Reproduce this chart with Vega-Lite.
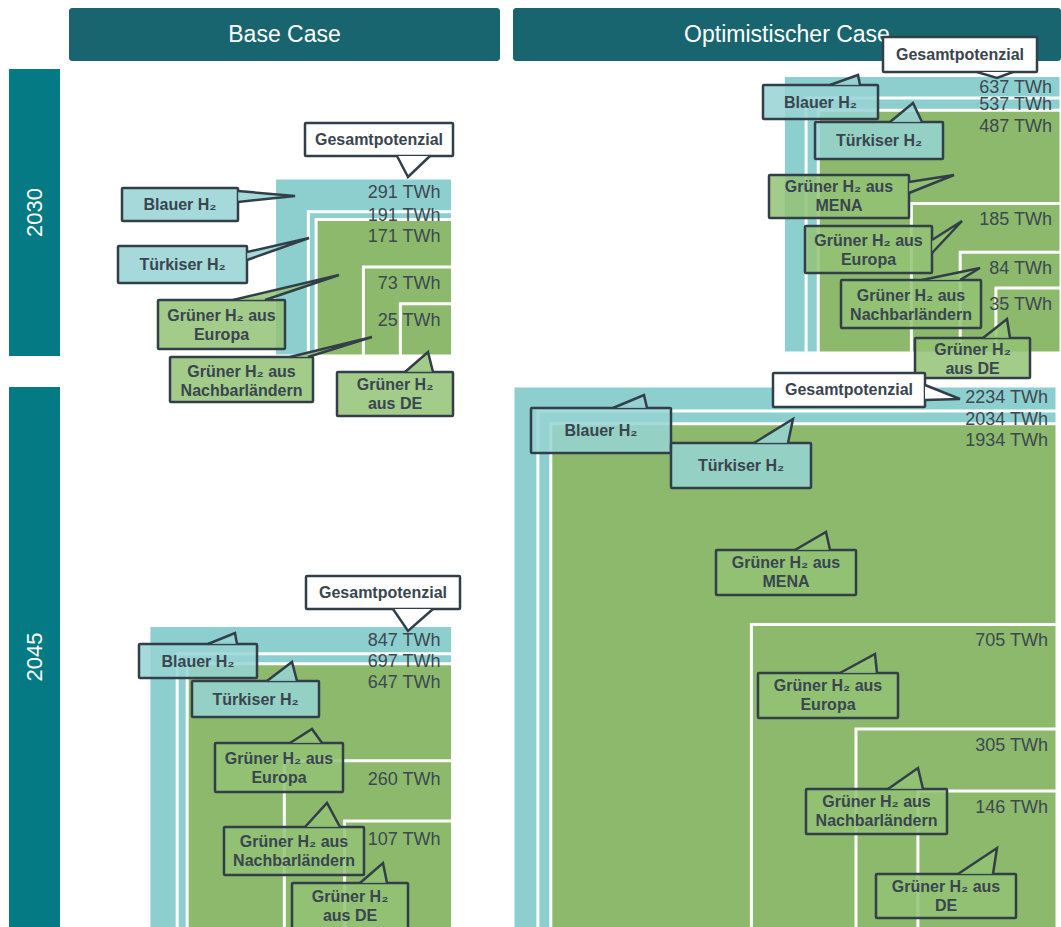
{
  "$schema": "https://vega.github.io/schema/vega-lite/v6.json",
  "padding": {"left": 9, "top": 8, "right": 0, "bottom": 0},
  "background": "white",
  "config": {"view": {"stroke": null}, "font": "Liberation Sans"},
  "datasets": {
    "kopf": [{"fall": "Base Case"}, {"fall": "Optimistischer Case"}],
    "jahre": [{"jahr": "2030"}, {"jahr": "2045"}],
    "quadrate": [
      {"fall": "Base Case", "jahr": 2030, "kategorie": "Blauer H₂", "wert": 291, "beschriftung": "291 TWh"},
      {"fall": "Base Case", "jahr": 2030, "kategorie": "Türkiser H₂", "wert": 191, "beschriftung": "191 TWh"},
      {"fall": "Base Case", "jahr": 2030, "kategorie": "Grüner H₂ aus Europa", "wert": 171, "beschriftung": "171 TWh"},
      {"fall": "Base Case", "jahr": 2030, "kategorie": "Grüner H₂ aus Nachbarländern", "wert": 73, "beschriftung": "73 TWh"},
      {"fall": "Base Case", "jahr": 2030, "kategorie": "Grüner H₂ aus DE", "wert": 25, "beschriftung": "25 TWh"},
      {"fall": "Optimistischer Case", "jahr": 2030, "kategorie": "Blauer H₂", "wert": 637, "beschriftung": "637 TWh"},
      {"fall": "Optimistischer Case", "jahr": 2030, "kategorie": "Türkiser H₂", "wert": 537, "beschriftung": "537 TWh"},
      {"fall": "Optimistischer Case", "jahr": 2030, "kategorie": "Grüner H₂ aus MENA", "wert": 487, "beschriftung": "487 TWh"},
      {"fall": "Optimistischer Case", "jahr": 2030, "kategorie": "Grüner H₂ aus Europa", "wert": 185, "beschriftung": "185 TWh"},
      {"fall": "Optimistischer Case", "jahr": 2030, "kategorie": "Grüner H₂ aus Nachbarländern", "wert": 84, "beschriftung": "84 TWh"},
      {"fall": "Optimistischer Case", "jahr": 2030, "kategorie": "Grüner H₂ aus DE", "wert": 35, "beschriftung": "35 TWh"},
      {"fall": "Base Case", "jahr": 2045, "kategorie": "Blauer H₂", "wert": 847, "beschriftung": "847 TWh"},
      {"fall": "Base Case", "jahr": 2045, "kategorie": "Türkiser H₂", "wert": 697, "beschriftung": "697 TWh"},
      {"fall": "Base Case", "jahr": 2045, "kategorie": "Grüner H₂ aus Europa", "wert": 647, "beschriftung": "647 TWh"},
      {"fall": "Base Case", "jahr": 2045, "kategorie": "Grüner H₂ aus Nachbarländern", "wert": 260, "beschriftung": "260 TWh"},
      {"fall": "Base Case", "jahr": 2045, "kategorie": "Grüner H₂ aus DE", "wert": 107, "beschriftung": "107 TWh"},
      {"fall": "Optimistischer Case", "jahr": 2045, "kategorie": "Blauer H₂", "wert": 2234, "beschriftung": "2234 TWh"},
      {"fall": "Optimistischer Case", "jahr": 2045, "kategorie": "Türkiser H₂", "wert": 2034, "beschriftung": "2034 TWh"},
      {"fall": "Optimistischer Case", "jahr": 2045, "kategorie": "Grüner H₂ aus MENA", "wert": 1934, "beschriftung": "1934 TWh"},
      {"fall": "Optimistischer Case", "jahr": 2045, "kategorie": "Grüner H₂ aus Europa", "wert": 705, "beschriftung": "705 TWh"},
      {"fall": "Optimistischer Case", "jahr": 2045, "kategorie": "Grüner H₂ aus Nachbarländern", "wert": 305, "beschriftung": "305 TWh"},
      {"fall": "Optimistischer Case", "jahr": 2045, "kategorie": "Grüner H₂ aus DE", "wert": 146, "beschriftung": "146 TWh"}
    ],
    "boxen": [
      {"id": "B30-G", "fall": "Base Case", "jahr": 2030, "kategorie": "Gesamtpotenzial", "text": "Gesamtpotenzial", "x1": 236, "x2": 384, "y1": 54, "y2": 87, "cx": 310, "cy": 70.5},
      {"id": "B30-B", "fall": "Base Case", "jahr": 2030, "kategorie": "Blauer H₂", "text": "Blauer H₂", "x1": 53, "x2": 169, "y1": 119, "y2": 152, "cx": 111, "cy": 136},
      {"id": "B30-T", "fall": "Base Case", "jahr": 2030, "kategorie": "Türkiser H₂", "text": "Türkiser H₂", "x1": 49, "x2": 178, "y1": 177, "y2": 214, "cx": 113.5, "cy": 196},
      {"id": "B30-E", "fall": "Base Case", "jahr": 2030, "kategorie": "Grüner H₂ aus Europa", "text": "Grüner H₂ aus\nEuropa", "x1": 89, "x2": 216, "y1": 231, "y2": 280, "cx": 152.5, "cy": 247},
      {"id": "B30-N", "fall": "Base Case", "jahr": 2030, "kategorie": "Grüner H₂ aus Nachbarländern", "text": "Grüner H₂ aus\nNachbarländern", "x1": 101, "x2": 244, "y1": 288, "y2": 333, "cx": 172.5, "cy": 303},
      {"id": "B30-D", "fall": "Base Case", "jahr": 2030, "kategorie": "Grüner H₂ aus DE", "text": "Grüner H₂\naus DE", "x1": 268, "x2": 384, "y1": 303, "y2": 347, "cx": 326, "cy": 316},
      {"id": "O30-G", "fall": "Optimistischer Case", "jahr": 2030, "kategorie": "Gesamtpotenzial", "text": "Gesamtpotenzial", "x1": 370, "x2": 524, "y1": -32, "y2": 3, "cx": 447, "cy": -14},
      {"id": "O30-B", "fall": "Optimistischer Case", "jahr": 2030, "kategorie": "Blauer H₂", "text": "Blauer H₂", "x1": 250, "x2": 365, "y1": 16, "y2": 50, "cx": 307.5, "cy": 34},
      {"id": "O30-T", "fall": "Optimistischer Case", "jahr": 2030, "kategorie": "Türkiser H₂", "text": "Türkiser H₂", "x1": 302, "x2": 430, "y1": 53, "y2": 90, "cx": 366, "cy": 72},
      {"id": "O30-M", "fall": "Optimistischer Case", "jahr": 2030, "kategorie": "Grüner H₂ aus MENA", "text": "Grüner H₂ aus\nMENA", "x1": 256, "x2": 396, "y1": 106, "y2": 149, "cx": 326, "cy": 118},
      {"id": "O30-E", "fall": "Optimistischer Case", "jahr": 2030, "kategorie": "Grüner H₂ aus Europa", "text": "Grüner H₂ aus\nEuropa", "x1": 292, "x2": 419, "y1": 157, "y2": 204, "cx": 355.5, "cy": 172},
      {"id": "O30-N", "fall": "Optimistischer Case", "jahr": 2030, "kategorie": "Grüner H₂ aus Nachbarländern", "text": "Grüner H₂ aus\nNachbarländern", "x1": 328, "x2": 468, "y1": 211, "y2": 259, "cx": 398, "cy": 227},
      {"id": "O30-D", "fall": "Optimistischer Case", "jahr": 2030, "kategorie": "Grüner H₂ aus DE", "text": "Grüner H₂\naus DE", "x1": 402, "x2": 517, "y1": 269, "y2": 309, "cx": 459.5, "cy": 281},
      {"id": "B45-G", "fall": "Base Case", "jahr": 2045, "kategorie": "Gesamtpotenzial", "text": "Gesamtpotenzial", "x1": 237, "x2": 391, "y1": 189, "y2": 222, "cx": 314, "cy": 206},
      {"id": "B45-B", "fall": "Base Case", "jahr": 2045, "kategorie": "Blauer H₂", "text": "Blauer H₂", "x1": 70, "x2": 188, "y1": 257, "y2": 291, "cx": 129, "cy": 275},
      {"id": "B45-T", "fall": "Base Case", "jahr": 2045, "kategorie": "Türkiser H₂", "text": "Türkiser H₂", "x1": 123, "x2": 250, "y1": 294, "y2": 330, "cx": 186.5, "cy": 313},
      {"id": "B45-E", "fall": "Base Case", "jahr": 2045, "kategorie": "Grüner H₂ aus Europa", "text": "Grüner H₂ aus\nEuropa", "x1": 146, "x2": 274, "y1": 356, "y2": 405, "cx": 210, "cy": 372},
      {"id": "B45-N", "fall": "Base Case", "jahr": 2045, "kategorie": "Grüner H₂ aus Nachbarländern", "text": "Grüner H₂ aus\nNachbarländern", "x1": 155, "x2": 295, "y1": 440, "y2": 488, "cx": 225, "cy": 455},
      {"id": "B45-D", "fall": "Base Case", "jahr": 2045, "kategorie": "Grüner H₂ aus DE", "text": "Grüner H₂\naus DE", "x1": 223, "x2": 339, "y1": 496, "y2": 548, "cx": 281, "cy": 510},
      {"id": "O45-G", "fall": "Optimistischer Case", "jahr": 2045, "kategorie": "Gesamtpotenzial", "text": "Gesamtpotenzial", "x1": 260, "x2": 412, "y1": -14, "y2": 20, "cx": 336, "cy": 3},
      {"id": "O45-B", "fall": "Optimistischer Case", "jahr": 2045, "kategorie": "Blauer H₂", "text": "Blauer H₂", "x1": 18, "x2": 158, "y1": 21, "y2": 66, "cx": 88, "cy": 44},
      {"id": "O45-T", "fall": "Optimistischer Case", "jahr": 2045, "kategorie": "Türkiser H₂", "text": "Türkiser H₂", "x1": 158, "x2": 298, "y1": 56, "y2": 101, "cx": 228, "cy": 79},
      {"id": "O45-M", "fall": "Optimistischer Case", "jahr": 2045, "kategorie": "Grüner H₂ aus MENA", "text": "Grüner H₂ aus\nMENA", "x1": 203, "x2": 343, "y1": 163, "y2": 208, "cx": 273, "cy": 176},
      {"id": "O45-E", "fall": "Optimistischer Case", "jahr": 2045, "kategorie": "Grüner H₂ aus Europa", "text": "Grüner H₂ aus\nEuropa", "x1": 245, "x2": 385, "y1": 286, "y2": 331, "cx": 315, "cy": 299},
      {"id": "O45-N", "fall": "Optimistischer Case", "jahr": 2045, "kategorie": "Grüner H₂ aus Nachbarländern", "text": "Grüner H₂ aus\nNachbarländern", "x1": 293, "x2": 434, "y1": 402, "y2": 447, "cx": 363.5, "cy": 415},
      {"id": "O45-D", "fall": "Optimistischer Case", "jahr": 2045, "kategorie": "Grüner H₂ aus DE", "text": "Grüner H₂ aus\nDE", "x1": 363, "x2": 503, "y1": 487, "y2": 531, "cx": 433, "cy": 500}
    ],
    "spitzen": [
      {"id": "B30-G", "ord": 0, "x": 328, "y": 87}, {"id": "B30-G", "ord": 1, "x": 339, "y": 108}, {"id": "B30-G", "ord": 2, "x": 361, "y": 87},
      {"id": "B30-B", "ord": 0, "x": 169, "y": 122}, {"id": "B30-B", "ord": 1, "x": 226, "y": 127}, {"id": "B30-B", "ord": 2, "x": 169, "y": 133},
      {"id": "B30-T", "ord": 0, "x": 178, "y": 183}, {"id": "B30-T", "ord": 1, "x": 240, "y": 169}, {"id": "B30-T", "ord": 2, "x": 178, "y": 191},
      {"id": "B30-E", "ord": 0, "x": 164, "y": 231}, {"id": "B30-E", "ord": 1, "x": 270, "y": 206}, {"id": "B30-E", "ord": 2, "x": 196, "y": 231},
      {"id": "B30-N", "ord": 0, "x": 221, "y": 288}, {"id": "B30-N", "ord": 1, "x": 303, "y": 268}, {"id": "B30-N", "ord": 2, "x": 239, "y": 288},
      {"id": "B30-D", "ord": 0, "x": 336, "y": 303}, {"id": "B30-D", "ord": 1, "x": 359, "y": 283}, {"id": "B30-D", "ord": 2, "x": 364, "y": 303},
      {"id": "O30-G", "ord": 0, "x": 464, "y": 3}, {"id": "O30-G", "ord": 1, "x": 484, "y": 9}, {"id": "O30-G", "ord": 2, "x": 500, "y": 3},
      {"id": "O30-B", "ord": 0, "x": 317, "y": 16}, {"id": "O30-B", "ord": 1, "x": 345, "y": 6}, {"id": "O30-B", "ord": 2, "x": 347, "y": 16},
      {"id": "O30-T", "ord": 0, "x": 377, "y": 53}, {"id": "O30-T", "ord": 1, "x": 400, "y": 34}, {"id": "O30-T", "ord": 2, "x": 409, "y": 53},
      {"id": "O30-M", "ord": 0, "x": 396, "y": 113}, {"id": "O30-M", "ord": 1, "x": 441, "y": 106}, {"id": "O30-M", "ord": 2, "x": 396, "y": 124},
      {"id": "O30-E", "ord": 0, "x": 419, "y": 171}, {"id": "O30-E", "ord": 1, "x": 449, "y": 152}, {"id": "O30-E", "ord": 2, "x": 419, "y": 184},
      {"id": "O30-N", "ord": 0, "x": 409, "y": 211}, {"id": "O30-N", "ord": 1, "x": 467, "y": 199}, {"id": "O30-N", "ord": 2, "x": 447, "y": 211},
      {"id": "O30-D", "ord": 0, "x": 470, "y": 269}, {"id": "O30-D", "ord": 1, "x": 494, "y": 250}, {"id": "O30-D", "ord": 2, "x": 497, "y": 269},
      {"id": "B45-G", "ord": 0, "x": 324, "y": 222}, {"id": "B45-G", "ord": 1, "x": 339, "y": 244}, {"id": "B45-G", "ord": 2, "x": 364, "y": 222},
      {"id": "B45-B", "ord": 0, "x": 139, "y": 257}, {"id": "B45-B", "ord": 1, "x": 166, "y": 246}, {"id": "B45-B", "ord": 2, "x": 168, "y": 257},
      {"id": "B45-T", "ord": 0, "x": 198, "y": 294}, {"id": "B45-T", "ord": 1, "x": 223, "y": 275}, {"id": "B45-T", "ord": 2, "x": 228, "y": 294},
      {"id": "B45-E", "ord": 0, "x": 221, "y": 356}, {"id": "B45-E", "ord": 1, "x": 243, "y": 342}, {"id": "B45-E", "ord": 2, "x": 253, "y": 356},
      {"id": "B45-N", "ord": 0, "x": 236, "y": 440}, {"id": "B45-N", "ord": 1, "x": 258, "y": 416}, {"id": "B45-N", "ord": 2, "x": 271, "y": 440},
      {"id": "B45-D", "ord": 0, "x": 291, "y": 496}, {"id": "B45-D", "ord": 1, "x": 314, "y": 476}, {"id": "B45-D", "ord": 2, "x": 318, "y": 496},
      {"id": "O45-G", "ord": 0, "x": 412, "y": -2}, {"id": "O45-G", "ord": 1, "x": 447, "y": 12}, {"id": "O45-G", "ord": 2, "x": 412, "y": 13},
      {"id": "O45-B", "ord": 0, "x": 100, "y": 21}, {"id": "O45-B", "ord": 1, "x": 131, "y": 8}, {"id": "O45-B", "ord": 2, "x": 134, "y": 21},
      {"id": "O45-T", "ord": 0, "x": 241, "y": 56}, {"id": "O45-T", "ord": 1, "x": 280, "y": 32}, {"id": "O45-T", "ord": 2, "x": 275, "y": 56},
      {"id": "O45-M", "ord": 0, "x": 282, "y": 163}, {"id": "O45-M", "ord": 1, "x": 313, "y": 145}, {"id": "O45-M", "ord": 2, "x": 317, "y": 163},
      {"id": "O45-E", "ord": 0, "x": 327, "y": 286}, {"id": "O45-E", "ord": 1, "x": 362, "y": 267}, {"id": "O45-E", "ord": 2, "x": 364, "y": 286},
      {"id": "O45-N", "ord": 0, "x": 375, "y": 402}, {"id": "O45-N", "ord": 1, "x": 405, "y": 381}, {"id": "O45-N", "ord": 2, "x": 410, "y": 402},
      {"id": "O45-D", "ord": 0, "x": 445, "y": 487}, {"id": "O45-D", "ord": 1, "x": 484, "y": 461}, {"id": "O45-D", "ord": 2, "x": 480, "y": 487}
    ]
  },
  "columns": 3,
  "spacing": {"row": 8, "column": 9},
  "bounds": "flush",
  "align": "each",
  "concat": [
    {"width": 51, "height": 53, "data": {"values": [{}]}, "mark": {"type": "point", "opacity": 0}, "encoding": {}},
    {"width": 431, "height": 53, "view": {"fill": "#19656f", "stroke": null, "cornerRadius": 3}, "data": {"name": "kopf"}, "transform": [{"filter": "datum.fall == 'Base Case'"}], "mark": {"type": "text", "color": "white", "fontSize": 23}, "encoding": {"text": {"field": "fall"}}},
    {"width": 548, "height": 53, "view": {"fill": "#19656f", "stroke": null, "cornerRadius": 3}, "data": {"name": "kopf"}, "transform": [{"filter": "datum.fall == 'Optimistischer Case'"}], "mark": {"type": "text", "color": "white", "fontSize": 23}, "encoding": {"text": {"field": "fall"}}},

    {"width": 51, "height": 287, "view": {"fill": "#047a84", "stroke": null}, "data": {"name": "jahre"}, "transform": [{"filter": "datum.jahr == '2030'"}], "mark": {"type": "text", "color": "white", "fontSize": 22, "angle": 270}, "encoding": {"text": {"field": "jahr"}}},
    {
      "width": 435, "height": 310,
      "resolve": {"scale": {"x": "independent", "y": "independent"}},
      "layer": [
        {"data": {"name": "quadrate"}, "transform": [{"filter": "datum.fall == 'Base Case' && datum.jahr == 2030"}],
         "mark": {"type": "rect", "stroke": "white", "strokeWidth": 3, "clip": true},
         "encoding": {
           "x": {"field": "wert", "type": "quantitative", "scale": {"type": "sqrt", "domain": [0, 1352], "range": [383.5, 0], "nice": false}, "axis": null},
           "x2": {"datum": 0},
           "y": {"field": "wert", "type": "quantitative", "scale": {"type": "sqrt", "domain": [0, 757.2], "range": [287, 0], "nice": false}, "axis": null},
           "y2": {"datum": 0},
           "color": {"field": "kategorie", "type": "nominal", "scale": {"domain": ["Blauer H₂", "Türkiser H₂", "Grüner H₂ aus MENA", "Grüner H₂ aus Europa", "Grüner H₂ aus Nachbarländern", "Grüner H₂ aus DE"], "range": ["#8dcfcf", "#8dcfcf", "#8cb96b", "#8cb96b", "#8cb96b", "#8cb96b"]}, "legend": null}
         }},
        {"data": {"name": "quadrate"}, "transform": [{"filter": "datum.fall == 'Base Case' && datum.jahr == 2030 && datum.kategorie == 'Blauer H₂'"}],
         "mark": {"type": "text", "align": "right", "baseline": "middle", "dx": -12, "dy": 15, "fontSize": 18, "color": "#3d4852"},
         "encoding": {
           "x": {"datum": 0, "type": "quantitative", "scale": {"type": "sqrt", "domain": [0, 1352], "range": [383.5, 0], "nice": false}, "axis": null},
           "y": {"field": "wert", "type": "quantitative", "scale": {"type": "sqrt", "domain": [0, 757.2], "range": [287, 0], "nice": false}, "axis": null},
           "text": {"field": "beschriftung"}
         }},
        {"data": {"name": "quadrate"}, "transform": [{"filter": "datum.fall == 'Base Case' && datum.jahr == 2030 && datum.kategorie == 'Türkiser H₂'"}],
         "mark": {"type": "text", "align": "right", "baseline": "middle", "dx": -12, "dy": 4, "fontSize": 18, "color": "#3d4852"},
         "encoding": {
           "x": {"datum": 0, "type": "quantitative", "scale": {"type": "sqrt", "domain": [0, 1352], "range": [383.5, 0], "nice": false}, "axis": null},
           "y": {"field": "wert", "type": "quantitative", "scale": {"type": "sqrt", "domain": [0, 757.2], "range": [287, 0], "nice": false}, "axis": null},
           "text": {"field": "beschriftung"}
         }},
        {"data": {"name": "quadrate"}, "transform": [{"filter": "datum.fall == 'Base Case' && datum.jahr == 2030 && indexof(datum.kategorie, 'Grüner') == 0"}],
         "mark": {"type": "text", "align": "right", "baseline": "middle", "dx": -12, "dy": 17, "fontSize": 18, "color": "#3d4852"},
         "encoding": {
           "x": {"datum": 0, "type": "quantitative", "scale": {"type": "sqrt", "domain": [0, 1352], "range": [383.5, 0], "nice": false}, "axis": null},
           "y": {"field": "wert", "type": "quantitative", "scale": {"type": "sqrt", "domain": [0, 757.2], "range": [287, 0], "nice": false}, "axis": null},
           "text": {"field": "beschriftung"}
         }},
        {"data": {"name": "boxen"}, "transform": [{"filter": "datum.fall == 'Base Case' && datum.jahr == 2030"}],
         "mark": {"type": "rect", "stroke": "#333f48", "strokeWidth": 2.5, "strokeJoin": "miter", "cornerRadius": 1},
         "encoding": {
           "x": {"field": "x1", "type": "quantitative", "scale": {"domain": [0, 435], "range": [0, 435], "nice": false, "zero": false}, "axis": null},
           "x2": {"field": "x2"},
           "y": {"field": "y1", "type": "quantitative", "scale": {"domain": [0, 310], "range": [0, 310], "nice": false, "zero": false}, "axis": null},
           "y2": {"field": "y2"},
           "fill": {"field": "kategorie", "type": "nominal", "scale": {"domain": ["Gesamtpotenzial", "Blauer H₂", "Türkiser H₂", "Grüner H₂ aus MENA", "Grüner H₂ aus Europa", "Grüner H₂ aus Nachbarländern", "Grüner H₂ aus DE"], "range": ["#ffffff", "#96d4d4", "#96d4d4", "#93c275", "#93c275", "#93c275", "#93c275"]}, "legend": null},
           "fillOpacity": {"condition": {"test": "datum.kategorie == 'Gesamtpotenzial'", "value": 1}, "value": 0.85}
         }},
        {"data": {"name": "spitzen"}, "transform": [{"lookup": "id", "from": {"data": {"name": "boxen"}, "key": "id", "fields": ["kategorie", "fall", "jahr"]}}, {"filter": "datum.fall == 'Base Case' && datum.jahr == 2030"}],
         "mark": {"type": "line", "stroke": "#333f48", "strokeWidth": 2.5, "strokeJoin": "miter"},
         "encoding": {
           "x": {"field": "x", "type": "quantitative", "scale": {"domain": [0, 435], "range": [0, 435], "nice": false, "zero": false}, "axis": null},
           "y": {"field": "y", "type": "quantitative", "scale": {"domain": [0, 310], "range": [0, 310], "nice": false, "zero": false}, "axis": null},
           "order": {"field": "ord", "type": "quantitative"},
           "detail": {"field": "id", "type": "nominal"},
           "fill": {"field": "kategorie", "type": "nominal", "scale": {"domain": ["Gesamtpotenzial", "Blauer H₂", "Türkiser H₂", "Grüner H₂ aus MENA", "Grüner H₂ aus Europa", "Grüner H₂ aus Nachbarländern", "Grüner H₂ aus DE"], "range": ["#ffffff", "#96d4d4", "#96d4d4", "#93c275", "#93c275", "#93c275", "#93c275"]}, "legend": null},
           "fillOpacity": {"condition": {"test": "datum.kategorie == 'Gesamtpotenzial'", "value": 1}, "value": 0.85}
         }},
        {"data": {"name": "boxen"}, "transform": [{"filter": "datum.fall == 'Base Case' && datum.jahr == 2030"}],
         "mark": {"type": "text", "fontSize": 16, "fontWeight": "bold", "color": "#3a4550", "lineBreak": "\n", "lineHeight": 19, "baseline": "middle", "align": "center"},
         "encoding": {
           "x": {"field": "cx", "type": "quantitative", "scale": {"domain": [0, 435], "range": [0, 435], "nice": false, "zero": false}, "axis": null},
           "y": {"field": "cy", "type": "quantitative", "scale": {"domain": [0, 310], "range": [0, 310], "nice": false, "zero": false}, "axis": null},
           "text": {"field": "text"}
         }}
      ]
    },
    {
      "width": 548, "height": 310,
      "resolve": {"scale": {"x": "independent", "y": "independent"}},
      "layer": [
        {"data": {"name": "quadrate"}, "transform": [{"filter": "datum.fall == 'Optimistischer Case' && datum.jahr == 2030"}],
         "mark": {"type": "rect", "stroke": "white", "strokeWidth": 3, "clip": true},
         "encoding": {
           "x": {"field": "wert", "type": "quantitative", "scale": {"type": "sqrt", "domain": [0, 2481.9], "range": [548, 0], "nice": false}, "axis": null},
           "x2": {"datum": 0},
           "y": {"field": "wert", "type": "quantitative", "scale": {"type": "sqrt", "domain": [0, 666.6], "range": [284, 0], "nice": false}, "axis": null},
           "y2": {"datum": 0},
           "color": {"field": "kategorie", "type": "nominal", "scale": {"domain": ["Blauer H₂", "Türkiser H₂", "Grüner H₂ aus MENA", "Grüner H₂ aus Europa", "Grüner H₂ aus Nachbarländern", "Grüner H₂ aus DE"], "range": ["#8dcfcf", "#8dcfcf", "#8cb96b", "#8cb96b", "#8cb96b", "#8cb96b"]}, "legend": null}
         }},
        {"data": {"name": "quadrate"}, "transform": [{"filter": "datum.fall == 'Optimistischer Case' && datum.jahr == 2030 && datum.kategorie == 'Blauer H₂'"}],
         "mark": {"type": "text", "align": "right", "baseline": "middle", "dx": -9, "dy": 13, "fontSize": 18, "color": "#3d4852"},
         "encoding": {
           "x": {"datum": 0, "type": "quantitative", "scale": {"type": "sqrt", "domain": [0, 2481.9], "range": [548, 0], "nice": false}, "axis": null},
           "y": {"field": "wert", "type": "quantitative", "scale": {"type": "sqrt", "domain": [0, 666.6], "range": [284, 0], "nice": false}, "axis": null},
           "text": {"field": "beschriftung"}
         }},
        {"data": {"name": "quadrate"}, "transform": [{"filter": "datum.fall == 'Optimistischer Case' && datum.jahr == 2030 && datum.kategorie == 'Türkiser H₂'"}],
         "mark": {"type": "text", "align": "right", "baseline": "middle", "dx": -9, "dy": 7, "fontSize": 18, "color": "#3d4852"},
         "encoding": {
           "x": {"datum": 0, "type": "quantitative", "scale": {"type": "sqrt", "domain": [0, 2481.9], "range": [548, 0], "nice": false}, "axis": null},
           "y": {"field": "wert", "type": "quantitative", "scale": {"type": "sqrt", "domain": [0, 666.6], "range": [284, 0], "nice": false}, "axis": null},
           "text": {"field": "beschriftung"}
         }},
        {"data": {"name": "quadrate"}, "transform": [{"filter": "datum.fall == 'Optimistischer Case' && datum.jahr == 2030 && indexof(datum.kategorie, 'Grüner') == 0"}],
         "mark": {"type": "text", "align": "right", "baseline": "middle", "dx": -9, "dy": 17, "fontSize": 18, "color": "#3d4852"},
         "encoding": {
           "x": {"datum": 0, "type": "quantitative", "scale": {"type": "sqrt", "domain": [0, 2481.9], "range": [548, 0], "nice": false}, "axis": null},
           "y": {"field": "wert", "type": "quantitative", "scale": {"type": "sqrt", "domain": [0, 666.6], "range": [284, 0], "nice": false}, "axis": null},
           "text": {"field": "beschriftung"}
         }},
        {"data": {"name": "boxen"}, "transform": [{"filter": "datum.fall == 'Optimistischer Case' && datum.jahr == 2030"}],
         "mark": {"type": "rect", "stroke": "#333f48", "strokeWidth": 2.5, "strokeJoin": "miter", "cornerRadius": 1},
         "encoding": {
           "x": {"field": "x1", "type": "quantitative", "scale": {"domain": [0, 548], "range": [0, 548], "nice": false, "zero": false}, "axis": null},
           "x2": {"field": "x2"},
           "y": {"field": "y1", "type": "quantitative", "scale": {"domain": [0, 310], "range": [0, 310], "nice": false, "zero": false}, "axis": null},
           "y2": {"field": "y2"},
           "fill": {"field": "kategorie", "type": "nominal", "scale": {"domain": ["Gesamtpotenzial", "Blauer H₂", "Türkiser H₂", "Grüner H₂ aus MENA", "Grüner H₂ aus Europa", "Grüner H₂ aus Nachbarländern", "Grüner H₂ aus DE"], "range": ["#ffffff", "#96d4d4", "#96d4d4", "#93c275", "#93c275", "#93c275", "#93c275"]}, "legend": null},
           "fillOpacity": {"condition": {"test": "datum.kategorie == 'Gesamtpotenzial'", "value": 1}, "value": 0.85}
         }},
        {"data": {"name": "spitzen"}, "transform": [{"lookup": "id", "from": {"data": {"name": "boxen"}, "key": "id", "fields": ["kategorie", "fall", "jahr"]}}, {"filter": "datum.fall == 'Optimistischer Case' && datum.jahr == 2030"}],
         "mark": {"type": "line", "stroke": "#333f48", "strokeWidth": 2.5, "strokeJoin": "miter"},
         "encoding": {
           "x": {"field": "x", "type": "quantitative", "scale": {"domain": [0, 548], "range": [0, 548], "nice": false, "zero": false}, "axis": null},
           "y": {"field": "y", "type": "quantitative", "scale": {"domain": [0, 310], "range": [0, 310], "nice": false, "zero": false}, "axis": null},
           "order": {"field": "ord", "type": "quantitative"},
           "detail": {"field": "id", "type": "nominal"},
           "fill": {"field": "kategorie", "type": "nominal", "scale": {"domain": ["Gesamtpotenzial", "Blauer H₂", "Türkiser H₂", "Grüner H₂ aus MENA", "Grüner H₂ aus Europa", "Grüner H₂ aus Nachbarländern", "Grüner H₂ aus DE"], "range": ["#ffffff", "#96d4d4", "#96d4d4", "#93c275", "#93c275", "#93c275", "#93c275"]}, "legend": null},
           "fillOpacity": {"condition": {"test": "datum.kategorie == 'Gesamtpotenzial'", "value": 1}, "value": 0.85}
         }},
        {"data": {"name": "boxen"}, "transform": [{"filter": "datum.fall == 'Optimistischer Case' && datum.jahr == 2030"}],
         "mark": {"type": "text", "fontSize": 16, "fontWeight": "bold", "color": "#3a4550", "lineBreak": "\n", "lineHeight": 19, "baseline": "middle", "align": "center"},
         "encoding": {
           "x": {"field": "cx", "type": "quantitative", "scale": {"domain": [0, 548], "range": [0, 548], "nice": false, "zero": false}, "axis": null},
           "y": {"field": "cy", "type": "quantitative", "scale": {"domain": [0, 310], "range": [0, 310], "nice": false, "zero": false}, "axis": null},
           "text": {"field": "text"}
         }}
      ]
    },

    {"width": 51, "height": 540, "view": {"fill": "#047a84", "stroke": null}, "data": {"name": "jahre"}, "transform": [{"filter": "datum.jahr == '2045'"}], "mark": {"type": "text", "color": "white", "fontSize": 22, "angle": 270}, "encoding": {"text": {"field": "jahr"}}},
    {
      "width": 435, "height": 540,
      "resolve": {"scale": {"x": "independent", "y": "independent"}},
      "layer": [
        {"data": {"name": "quadrate"}, "transform": [{"filter": "datum.fall == 'Base Case' && datum.jahr == 2045"}],
         "mark": {"type": "rect", "stroke": "white", "strokeWidth": 3, "clip": true},
         "encoding": {
           "x": {"field": "wert", "type": "quantitative", "scale": {"type": "sqrt", "domain": [0, 1352], "range": [383.5, 0], "nice": false}, "axis": null},
           "x2": {"datum": 0},
           "y": {"field": "wert", "type": "quantitative", "scale": {"type": "sqrt", "domain": [0, 2700.4], "range": [542, 0], "nice": false}, "axis": null},
           "y2": {"datum": 0},
           "color": {"field": "kategorie", "type": "nominal", "scale": {"domain": ["Blauer H₂", "Türkiser H₂", "Grüner H₂ aus MENA", "Grüner H₂ aus Europa", "Grüner H₂ aus Nachbarländern", "Grüner H₂ aus DE"], "range": ["#8dcfcf", "#8dcfcf", "#8cb96b", "#8cb96b", "#8cb96b", "#8cb96b"]}, "legend": null}
         }},
        {"data": {"name": "quadrate"}, "transform": [{"filter": "datum.fall == 'Base Case' && datum.jahr == 2045 && datum.kategorie == 'Blauer H₂'"}],
         "mark": {"type": "text", "align": "right", "baseline": "middle", "dx": -12, "dy": 16, "fontSize": 18, "color": "#3d4852"},
         "encoding": {
           "x": {"datum": 0, "type": "quantitative", "scale": {"type": "sqrt", "domain": [0, 1352], "range": [383.5, 0], "nice": false}, "axis": null},
           "y": {"field": "wert", "type": "quantitative", "scale": {"type": "sqrt", "domain": [0, 2700.4], "range": [542, 0], "nice": false}, "axis": null},
           "text": {"field": "beschriftung"}
         }},
        {"data": {"name": "quadrate"}, "transform": [{"filter": "datum.fall == 'Base Case' && datum.jahr == 2045 && datum.kategorie == 'Türkiser H₂'"}],
         "mark": {"type": "text", "align": "right", "baseline": "middle", "dx": -12, "dy": 8, "fontSize": 18, "color": "#3d4852"},
         "encoding": {
           "x": {"datum": 0, "type": "quantitative", "scale": {"type": "sqrt", "domain": [0, 1352], "range": [383.5, 0], "nice": false}, "axis": null},
           "y": {"field": "wert", "type": "quantitative", "scale": {"type": "sqrt", "domain": [0, 2700.4], "range": [542, 0], "nice": false}, "axis": null},
           "text": {"field": "beschriftung"}
         }},
        {"data": {"name": "quadrate"}, "transform": [{"filter": "datum.fall == 'Base Case' && datum.jahr == 2045 && indexof(datum.kategorie, 'Grüner') == 0"}],
         "mark": {"type": "text", "align": "right", "baseline": "middle", "dx": -12, "dy": 19, "fontSize": 18, "color": "#3d4852"},
         "encoding": {
           "x": {"datum": 0, "type": "quantitative", "scale": {"type": "sqrt", "domain": [0, 1352], "range": [383.5, 0], "nice": false}, "axis": null},
           "y": {"field": "wert", "type": "quantitative", "scale": {"type": "sqrt", "domain": [0, 2700.4], "range": [542, 0], "nice": false}, "axis": null},
           "text": {"field": "beschriftung"}
         }},
        {"data": {"name": "boxen"}, "transform": [{"filter": "datum.fall == 'Base Case' && datum.jahr == 2045"}],
         "mark": {"type": "rect", "stroke": "#333f48", "strokeWidth": 2.5, "strokeJoin": "miter", "cornerRadius": 1, "clip": true},
         "encoding": {
           "x": {"field": "x1", "type": "quantitative", "scale": {"domain": [0, 435], "range": [0, 435], "nice": false, "zero": false}, "axis": null},
           "x2": {"field": "x2"},
           "y": {"field": "y1", "type": "quantitative", "scale": {"domain": [0, 540], "range": [0, 540], "nice": false, "zero": false}, "axis": null},
           "y2": {"field": "y2"},
           "fill": {"field": "kategorie", "type": "nominal", "scale": {"domain": ["Gesamtpotenzial", "Blauer H₂", "Türkiser H₂", "Grüner H₂ aus MENA", "Grüner H₂ aus Europa", "Grüner H₂ aus Nachbarländern", "Grüner H₂ aus DE"], "range": ["#ffffff", "#96d4d4", "#96d4d4", "#93c275", "#93c275", "#93c275", "#93c275"]}, "legend": null},
           "fillOpacity": {"condition": {"test": "datum.kategorie == 'Gesamtpotenzial'", "value": 1}, "value": 0.85}
         }},
        {"data": {"name": "spitzen"}, "transform": [{"lookup": "id", "from": {"data": {"name": "boxen"}, "key": "id", "fields": ["kategorie", "fall", "jahr"]}}, {"filter": "datum.fall == 'Base Case' && datum.jahr == 2045"}],
         "mark": {"type": "line", "stroke": "#333f48", "strokeWidth": 2.5, "strokeJoin": "miter"},
         "encoding": {
           "x": {"field": "x", "type": "quantitative", "scale": {"domain": [0, 435], "range": [0, 435], "nice": false, "zero": false}, "axis": null},
           "y": {"field": "y", "type": "quantitative", "scale": {"domain": [0, 540], "range": [0, 540], "nice": false, "zero": false}, "axis": null},
           "order": {"field": "ord", "type": "quantitative"},
           "detail": {"field": "id", "type": "nominal"},
           "fill": {"field": "kategorie", "type": "nominal", "scale": {"domain": ["Gesamtpotenzial", "Blauer H₂", "Türkiser H₂", "Grüner H₂ aus MENA", "Grüner H₂ aus Europa", "Grüner H₂ aus Nachbarländern", "Grüner H₂ aus DE"], "range": ["#ffffff", "#96d4d4", "#96d4d4", "#93c275", "#93c275", "#93c275", "#93c275"]}, "legend": null},
           "fillOpacity": {"condition": {"test": "datum.kategorie == 'Gesamtpotenzial'", "value": 1}, "value": 0.85}
         }},
        {"data": {"name": "boxen"}, "transform": [{"filter": "datum.fall == 'Base Case' && datum.jahr == 2045"}],
         "mark": {"type": "text", "fontSize": 16, "fontWeight": "bold", "color": "#3a4550", "lineBreak": "\n", "lineHeight": 19, "baseline": "middle", "align": "center"},
         "encoding": {
           "x": {"field": "cx", "type": "quantitative", "scale": {"domain": [0, 435], "range": [0, 435], "nice": false, "zero": false}, "axis": null},
           "y": {"field": "cy", "type": "quantitative", "scale": {"domain": [0, 540], "range": [0, 540], "nice": false, "zero": false}, "axis": null},
           "text": {"field": "text"}
         }}
      ]
    },
    {
      "width": 548, "height": 540,
      "resolve": {"scale": {"x": "independent", "y": "independent"}},
      "layer": [
        {"data": {"name": "quadrate"}, "transform": [{"filter": "datum.fall == 'Optimistischer Case' && datum.jahr == 2045"}],
         "mark": {"type": "rect", "stroke": "white", "strokeWidth": 3, "clip": true},
         "encoding": {
           "x": {"field": "wert", "type": "quantitative", "scale": {"type": "sqrt", "domain": [0, 2233.8], "range": [544, 0], "nice": false}, "axis": null},
           "x2": {"datum": 0},
           "y": {"field": "wert", "type": "quantitative", "scale": {"type": "sqrt", "domain": [0, 2225.6], "range": [543, 0], "nice": false}, "axis": null},
           "y2": {"datum": 0},
           "color": {"field": "kategorie", "type": "nominal", "scale": {"domain": ["Blauer H₂", "Türkiser H₂", "Grüner H₂ aus MENA", "Grüner H₂ aus Europa", "Grüner H₂ aus Nachbarländern", "Grüner H₂ aus DE"], "range": ["#8dcfcf", "#8dcfcf", "#8cb96b", "#8cb96b", "#8cb96b", "#8cb96b"]}, "legend": null}
         }},
        {"data": {"name": "quadrate"}, "transform": [{"filter": "datum.fall == 'Optimistischer Case' && datum.jahr == 2045 && datum.kategorie == 'Blauer H₂'"}],
         "mark": {"type": "text", "align": "right", "baseline": "middle", "dx": -9, "dy": 12, "fontSize": 18, "color": "#3d4852"},
         "encoding": {
           "x": {"datum": 0, "type": "quantitative", "scale": {"type": "sqrt", "domain": [0, 2233.8], "range": [544, 0], "nice": false}, "axis": null},
           "y": {"field": "wert", "type": "quantitative", "scale": {"type": "sqrt", "domain": [0, 2225.6], "range": [543, 0], "nice": false}, "axis": null},
           "text": {"field": "beschriftung"}
         }},
        {"data": {"name": "quadrate"}, "transform": [{"filter": "datum.fall == 'Optimistischer Case' && datum.jahr == 2045 && datum.kategorie == 'Türkiser H₂'"}],
         "mark": {"type": "text", "align": "right", "baseline": "middle", "dx": -9, "dy": 9, "fontSize": 18, "color": "#3d4852"},
         "encoding": {
           "x": {"datum": 0, "type": "quantitative", "scale": {"type": "sqrt", "domain": [0, 2233.8], "range": [544, 0], "nice": false}, "axis": null},
           "y": {"field": "wert", "type": "quantitative", "scale": {"type": "sqrt", "domain": [0, 2225.6], "range": [543, 0], "nice": false}, "axis": null},
           "text": {"field": "beschriftung"}
         }},
        {"data": {"name": "quadrate"}, "transform": [{"filter": "datum.fall == 'Optimistischer Case' && datum.jahr == 2045 && indexof(datum.kategorie, 'Grüner') == 0"}],
         "mark": {"type": "text", "align": "right", "baseline": "middle", "dx": -9, "dy": 17, "fontSize": 18, "color": "#3d4852"},
         "encoding": {
           "x": {"datum": 0, "type": "quantitative", "scale": {"type": "sqrt", "domain": [0, 2233.8], "range": [544, 0], "nice": false}, "axis": null},
           "y": {"field": "wert", "type": "quantitative", "scale": {"type": "sqrt", "domain": [0, 2225.6], "range": [543, 0], "nice": false}, "axis": null},
           "text": {"field": "beschriftung"}
         }},
        {"data": {"name": "boxen"}, "transform": [{"filter": "datum.fall == 'Optimistischer Case' && datum.jahr == 2045"}],
         "mark": {"type": "rect", "stroke": "#333f48", "strokeWidth": 2.5, "strokeJoin": "miter", "cornerRadius": 1},
         "encoding": {
           "x": {"field": "x1", "type": "quantitative", "scale": {"domain": [0, 548], "range": [0, 548], "nice": false, "zero": false}, "axis": null},
           "x2": {"field": "x2"},
           "y": {"field": "y1", "type": "quantitative", "scale": {"domain": [0, 540], "range": [0, 540], "nice": false, "zero": false}, "axis": null},
           "y2": {"field": "y2"},
           "fill": {"field": "kategorie", "type": "nominal", "scale": {"domain": ["Gesamtpotenzial", "Blauer H₂", "Türkiser H₂", "Grüner H₂ aus MENA", "Grüner H₂ aus Europa", "Grüner H₂ aus Nachbarländern", "Grüner H₂ aus DE"], "range": ["#ffffff", "#96d4d4", "#96d4d4", "#93c275", "#93c275", "#93c275", "#93c275"]}, "legend": null},
           "fillOpacity": {"condition": {"test": "datum.kategorie == 'Gesamtpotenzial'", "value": 1}, "value": 0.85}
         }},
        {"data": {"name": "spitzen"}, "transform": [{"lookup": "id", "from": {"data": {"name": "boxen"}, "key": "id", "fields": ["kategorie", "fall", "jahr"]}}, {"filter": "datum.fall == 'Optimistischer Case' && datum.jahr == 2045"}],
         "mark": {"type": "line", "stroke": "#333f48", "strokeWidth": 2.5, "strokeJoin": "miter"},
         "encoding": {
           "x": {"field": "x", "type": "quantitative", "scale": {"domain": [0, 548], "range": [0, 548], "nice": false, "zero": false}, "axis": null},
           "y": {"field": "y", "type": "quantitative", "scale": {"domain": [0, 540], "range": [0, 540], "nice": false, "zero": false}, "axis": null},
           "order": {"field": "ord", "type": "quantitative"},
           "detail": {"field": "id", "type": "nominal"},
           "fill": {"field": "kategorie", "type": "nominal", "scale": {"domain": ["Gesamtpotenzial", "Blauer H₂", "Türkiser H₂", "Grüner H₂ aus MENA", "Grüner H₂ aus Europa", "Grüner H₂ aus Nachbarländern", "Grüner H₂ aus DE"], "range": ["#ffffff", "#96d4d4", "#96d4d4", "#93c275", "#93c275", "#93c275", "#93c275"]}, "legend": null},
           "fillOpacity": {"condition": {"test": "datum.kategorie == 'Gesamtpotenzial'", "value": 1}, "value": 0.85}
         }},
        {"data": {"name": "boxen"}, "transform": [{"filter": "datum.fall == 'Optimistischer Case' && datum.jahr == 2045"}],
         "mark": {"type": "text", "fontSize": 16, "fontWeight": "bold", "color": "#3a4550", "lineBreak": "\n", "lineHeight": 19, "baseline": "middle", "align": "center"},
         "encoding": {
           "x": {"field": "cx", "type": "quantitative", "scale": {"domain": [0, 548], "range": [0, 548], "nice": false, "zero": false}, "axis": null},
           "y": {"field": "cy", "type": "quantitative", "scale": {"domain": [0, 540], "range": [0, 540], "nice": false, "zero": false}, "axis": null},
           "text": {"field": "text"}
         }}
      ]
    }
  ]
}
